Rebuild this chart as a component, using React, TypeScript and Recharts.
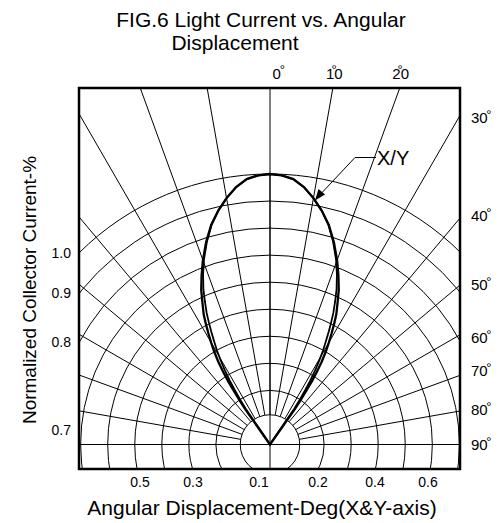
import { RadarChart, Radar, PolarGrid, PolarAngleAxis, PolarRadiusAxis } from "recharts";

// X curve: angle off the optical axis (deg, clockwise) and relative current
const X_ANGLES = [
  -35, -35, -35, -34.6, -34, -33.5, -32.8, -32, -31, -30, -29, -28, -27, -25.5, -24, -22, -20, -17.5, -15, -12.5, -10, -7.5, -5, -2.5,
  0,
  2.5, 5, 7.5, 10, 12.5, 15, 17.5, 20, 22, 24, 25.5, 27, 28, 29, 30, 31, 32, 32.8, 33.5, 34, 34.6, 35, 35, 35,
];
const X_VALUES = [
  0, 0.08, 0.16, 0.2, 0.24, 0.28, 0.32, 0.36, 0.4, 0.435, 0.47, 0.505, 0.54, 0.58, 0.625, 0.675, 0.725, 0.785, 0.84, 0.885, 0.925, 0.96, 0.985, 0.996,
  1,
  0.996, 0.985, 0.96, 0.925, 0.885, 0.84, 0.785, 0.725, 0.675, 0.625, 0.58, 0.54, 0.505, 0.47, 0.435, 0.4, 0.36, 0.32, 0.28, 0.24, 0.2, 0.16, 0.08, 0,
];

// Y curve runs just inside X on the lower half
const Y_ANGLES = [
  -34.3, -34.3, -34.2, -33.6, -32.9, -32.2, -31.3, -30.4, -29.4, -28.4, -27.5, -26.6, -25.7, -24.5, -23.2, -21.5, -19.7, -17.3, -14.9, -12.5, -10, -7.5, -5, -2.5,
  0,
  2.5, 5, 7.5, 10, 12.5, 14.9, 17.3, 19.7, 21.5, 23.2, 24.5, 25.7, 26.6, 27.5, 28.4, 29.4, 30.4, 31.3, 32.2, 32.9, 33.6, 34.2, 34.3, 34.3,
];
const Y_VALUES = [
  0, 0.08, 0.16, 0.2, 0.24, 0.28, 0.32, 0.36, 0.4, 0.435, 0.47, 0.505, 0.54, 0.58, 0.625, 0.675, 0.725, 0.785, 0.84, 0.885, 0.925, 0.96, 0.985, 0.996,
  1,
  0.996, 0.985, 0.96, 0.925, 0.885, 0.84, 0.785, 0.725, 0.675, 0.625, 0.58, 0.54, 0.505, 0.47, 0.435, 0.4, 0.36, 0.32, 0.28, 0.24, 0.2, 0.16, 0.08, 0,
];

// polar grid
const RING_LEVELS = [0.11, 0.2, 0.3, 0.4, 0.5, 0.6, 0.7, 0.8, 0.9, 1.0];
const SPOKE_ANGLES = [-90, -80, -70, -60, -50, -40, -30, -20, -10, 0, 10, 20, 30, 40, 50, 60, 70, 80, 90];
const CROSS_ANGLES = [0, 90, -90, 180];

// printed labels
const TOP_LABELS = ["0", "10", "20"];
const RIGHT_LABELS = ["30", "40", "50", "60", "70", "80", "90"];
const LEFT_LABELS = ["1.0", "0.9", "0.8", "0.7"];
const BOTTOM_LABELS = ["0.5", "0.3", "0.1", "0.2", "0.4", "0.6"];

const ROWS = [
  ...X_ANGLES.map((angle, i) => ({ angle, x: X_VALUES[i] })),
  ...Y_ANGLES.map((angle, i) => ({ angle, y: Y_VALUES[i] })),
];

const FONT = '"Liberation Sans", Arial, Helvetica, sans-serif';
const BOX = { left: 79, top: 88, size: 381 };
const CX = 191;
const CY = 356.5;
const R_FULL = 270.5;
const NO_MARGIN = { top: 0, right: 0, bottom: 0, left: 0 };

// degrees from the vertical axis -> recharts angle (0 = 3 o'clock, ccw)
const toChartAngle = (deg: number) => 90 - deg;

// label layout (page px): text start x and the degree sign's shift back
const TOP_POS = [
  { x: 272.5, dx: -1 },
  { x: 326, dx: -11.3 },
  { x: 392.3, dx: -11.6 },
];
const RIGHT_Y = [117, 215, 284, 337, 370, 409, 444];
const LEFT_Y = [253, 293, 342, 430];
const BOTTOM_X = [140, 193, 259, 318, 375, 428];

function chartProps(inner: number, outer: number) {
  return {
    width: BOX.size,
    height: BOX.size,
    data: ROWS,
    cx: CX,
    cy: CY,
    innerRadius: inner,
    outerRadius: outer,
    startAngle: 270,
    endAngle: -90,
    margin: NO_MARGIN,
  };
}

export default function App() {
  const layer: React.CSSProperties = { position: "absolute", left: 0, top: 0 };

  return (
    <div style={{ position: "absolute", left: 0, top: 0, width: 501, height: 523, background: "#fff" }}>
      <div
        style={{
          position: "absolute",
          left: BOX.left,
          top: BOX.top,
          width: BOX.size,
          height: BOX.size,
          overflow: "hidden",
        }}
      >
        <div style={layer}>
          <RadarChart {...chartProps(RING_LEVELS[0] * R_FULL, 430)}>
            <PolarGrid
              gridType="circle"
              polarAngles={SPOKE_ANGLES.map(toChartAngle)}
              polarRadius={RING_LEVELS.map((l) => l * R_FULL)}
              stroke="#000"
              strokeWidth={1}
            />
          </RadarChart>
        </div>
        <div style={layer}>
          <RadarChart {...chartProps(0, R_FULL)}>
            <PolarGrid
              gridType="circle"
              polarAngles={CROSS_ANGLES.map(toChartAngle)}
              polarRadius={[]}
              stroke="#000"
              strokeWidth={1}
            />
            <PolarAngleAxis
              dataKey="angle"
              type="number"
              domain={[-180, 180]}
              allowDataOverflow
              tick={false}
              tickLine={false}
              axisLine={false}
            />
            <PolarRadiusAxis type="number" domain={[0, 1]} allowDataOverflow tick={false} axisLine={false} />
            <Radar dataKey="x" stroke="#000" strokeWidth={2.3} fill="none" fillOpacity={0} connectNulls isAnimationActive={false} />
            <Radar dataKey="y" stroke="#000" strokeWidth={1.8} fill="none" fillOpacity={0} connectNulls isAnimationActive={false} />
          </RadarChart>
        </div>
      </div>

      <svg width={501} height={523} style={{ position: "absolute", left: 0, top: 0, pointerEvents: "none" }} fontFamily={FONT}>
        <rect x={BOX.left} y={BOX.top} width={BOX.size} height={BOX.size} fill="none" stroke="#000" strokeWidth={2.5} />

        <text x={261} y={27} fontSize={21} textAnchor="middle">FIG.6 Light Current vs. Angular</text>
        <text x={235} y={50} fontSize={21} textAnchor="middle">Displacement</text>

        {TOP_LABELS.map((t, i) => (
          <text key={t} x={TOP_POS[i].x} y={78.5} fontSize={15}>
            {t}
            <tspan dx={TOP_POS[i].dx} dy={-5} fontSize={13}>°</tspan>
          </text>
        ))}

        {RIGHT_LABELS.map((t, i) => (
          <text key={t} x={471} y={RIGHT_Y[i] + 5.5} fontSize={15}>
            {t}
            <tspan dx={-1.5} dy={-4} fontSize={13}>°</tspan>
          </text>
        ))}

        {LEFT_LABELS.map((t, i) => (
          <text key={t} x={71} y={LEFT_Y[i] + 5} fontSize={14} textAnchor="end">{t}</text>
        ))}

        {BOTTOM_LABELS.map((t, i) => (
          <text key={t} x={BOTTOM_X[i]} y={487} fontSize={14} textAnchor="middle">{t}</text>
        ))}

        <text x={262} y={515} fontSize={21} textAnchor="middle">Angular Displacement-Deg(X&amp;Y-axis)</text>
        <text x={0} y={0} fontSize={19} textAnchor="middle" transform="translate(36 290) rotate(-90)">
          Normalized Collector Current-%
        </text>

        {/* X/Y leader */}
        <polyline points="316,199 355,157.5 376,157.5" fill="none" stroke="#000" strokeWidth={1} />
        <polygon points="315,200.5 318.5,189 325,194.5" fill="#000" />
        <text x={377} y={165} fontSize={20}>X/Y</text>
      </svg>
    </div>
  );
}
